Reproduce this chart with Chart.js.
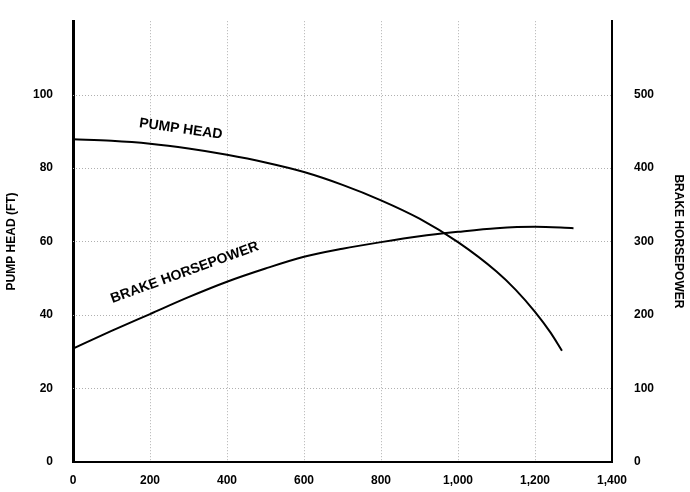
<!DOCTYPE html>
<html lang="en">
<head>
<meta charset="UTF-8">
<script src="https://cdn.jsdelivr.net/npm/chart.js"></script>
<style>
  body { margin: 0; background: #fff; }
  #wrap { width: 690px; height: 492px; }
</style>
</head>
<body>
<div id="wrap"><canvas id="myChart"></canvas></div>
<script>
  // flow (x), pump head in ft (left axis), brake horsepower (right axis)
  const headFlow = [0, 100, 200, 300, 400, 500, 600, 700, 800, 900, 1000, 1100, 1150, 1200, 1240, 1270];
  const headValues = [87.8, 87.4, 86.6, 85.3, 83.6, 81.5, 78.9, 75.4, 71.2, 66.2, 59.8, 51.8, 46.8, 40.8, 35.2, 30.2];
  const bhpFlow = [0, 100, 200, 300, 400, 500, 600, 700, 800, 900, 1000, 1100, 1200, 1300];
  const bhpValues = [154, 178, 201, 224, 245, 263, 279, 290, 299, 307, 313, 318, 320, 318];
  const xTicks = [0, 200, 400, 600, 800, 1000, 1200, 1400];
  const yTicks = [20, 40, 60, 80, 100];

  const labels = [
    { text: 'PUMP HEAD', x: 280, y: 90.6, angle: 8 },
    { text: 'BRAKE HORSEPOWER', x: 290, y: 51.5, angle: -20 }
  ];

  // dotted grid drawn from the scales
  const gridPlugin = {
    id: 'dotGrid',
    beforeDatasetsDraw(chart) {
      const ctx = chart.ctx, a = chart.chartArea;
      const xs = chart.scales.x, ys = chart.scales.y;
      ctx.save();
      ctx.strokeStyle = '#b0b0b0';
      ctx.lineWidth = 1;
      ctx.setLineDash([1, 2]);
      ctx.beginPath();
      xTicks.slice(1, -1).forEach(v => {
        const px = Math.round(xs.getPixelForValue(v)) + 0.5;
        ctx.moveTo(px, a.top); ctx.lineTo(px, a.bottom);
      });
      yTicks.forEach(v => {
        const py = Math.round(ys.getPixelForValue(v)) + 0.5;
        ctx.moveTo(a.left, py); ctx.lineTo(a.right, py);
      });
      ctx.stroke();
      ctx.restore();
    }
  };

  const textPlugin = {
    id: 'curveText',
    afterDatasetsDraw(chart) {
      const ctx = chart.ctx;
      const xs = chart.scales.x, ys = chart.scales.y;
      ctx.save();
      ctx.font = 'bold 14px "Liberation Sans", Arial, sans-serif';
      ctx.fillStyle = '#000';
      ctx.textAlign = 'center';
      ctx.textBaseline = 'middle';
      labels.forEach(l => {
        ctx.save();
        ctx.translate(xs.getPixelForValue(l.x), ys.getPixelForValue(l.y));
        ctx.rotate(l.angle * Math.PI / 180);
        ctx.fillText(l.text, 0, 0);
        ctx.restore();
      });
      ctx.restore();
    }
  };

  const font = { family: '"Liberation Sans", Arial, sans-serif', size: 12, weight: 'bold' };

  new Chart(document.getElementById('myChart'), {
    type: 'line',
    data: {
      datasets: [
        {
          label: 'Pump Head',
          data: headFlow.map((f, i) => ({ x: f, y: headValues[i] })),
          borderColor: '#000', borderWidth: 2, pointRadius: 0,
          cubicInterpolationMode: 'monotone', yAxisID: 'y'
        },
        {
          label: 'Brake Horsepower',
          data: bhpFlow.map((f, i) => ({ x: f, y: bhpValues[i] })),
          borderColor: '#000', borderWidth: 2, pointRadius: 0,
          cubicInterpolationMode: 'monotone', yAxisID: 'y2'
        }
      ]
    },
    options: {
      responsive: true,
      maintainAspectRatio: false,
      animation: false,
      layout: { padding: { top: -10, bottom: 0, left: 0, right: 0 } },
      plugins: { legend: { display: false }, tooltip: { enabled: false } },
      scales: {
        x: {
          type: 'linear', min: 0, max: 1400,
          afterBuildTicks: s => { s.ticks = xTicks.map(v => ({ value: v })); },
          ticks: { color: '#000', font, padding: 4, maxRotation: 0,
            callback: v => v.toLocaleString('en-US') },
          grid: { display: false },
          border: { color: '#000', width: 2 }
        },
        y: {
          position: 'left', min: 0, max: 120,
          ticks: { stepSize: 20, color: '#000', font, padding: 12,
            callback: v => v > 100 ? '' : v },
          grid: { display: false },
          border: { color: '#000', width: 3 },
          title: { display: true, text: 'PUMP HEAD (FT)', color: '#000', font, padding: 4 },
          afterFit: s => { s.width = 73; }
        },
        y2: {
          position: 'right', min: 0, max: 600,
          ticks: { stepSize: 100, color: '#000', font, padding: 14,
            callback: v => v > 500 ? '' : v },
          grid: { display: false },
          border: { color: '#000', width: 2 },
          title: { display: true, text: 'BRAKE HORSEPOWER', color: '#000', font, padding: 4 },
          afterFit: s => { s.width = 78; }
        }
      }
    },
    plugins: [gridPlugin, textPlugin]
  });
</script>
</body>
</html>
